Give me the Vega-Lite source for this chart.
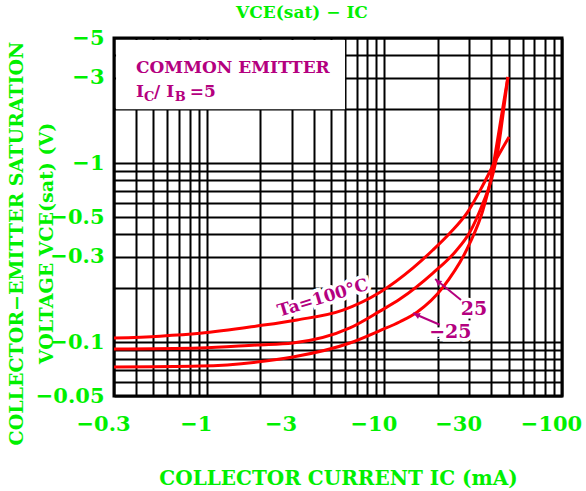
{
  "$schema": "https://vega.github.io/schema/vega-lite/v6.json",
  "width": 448,
  "height": 358,
  "autosize": {"type": "none"},
  "padding": {"left": 114, "top": 38, "right": 24, "bottom": 95},
  "background": "white",
  "title": {"text": "VCE(sat)  −  IC", "fontSize": 17, "font": "DejaVu Serif", "fontWeight": "bold", "color": "#00f000", "baseline": "alphabetic", "offset": 14, "dx": -36, "dy": 22, "anchor": "middle", "frame": "group"},
  "config": {
    "view": {"stroke": "black", "strokeWidth": 3},
    "axis": {
      "grid": true, "gridColor": "black", "gridWidth": 2, "gridOpacity": 1,
      "ticks": false, "tickSize": 0, "domain": false,
      "labelOverlap": false, "labelFlush": false,
      "labelFont": "DejaVu Serif", "labelFontWeight": "bold", "labelFontSize": 21, "labelColor": "#00f000",
      "titleFont": "DejaVu Serif", "titleFontWeight": "bold", "titleColor": "#00f000"
    }
  },
  "encoding": {
    "x": {
      "field": "x", "type": "quantitative",
      "scale": {"type": "log", "domain": [0.3, 100], "nice": false},
      "axis": {
        "values": [0.3, 0.4, 0.5, 0.6, 0.7, 0.8, 0.9, 1, 2, 3, 4, 5, 6, 7, 8, 9, 10, 20, 30, 40, 50, 60, 70, 80, 90, 100],
        "labelExpr": "indexof([0.3, 1, 3, 10, 30, 100], datum.value) >= 0 ? '−' + datum.value : ''",
        "labelPadding": 17, "labelOffset": -11,
        "title": "COLLECTOR CURRENT IC  (mA)", "titleFontSize": 20, "titleBaseline": "alphabetic", "titleY": 88
      }
    },
    "y": {
      "field": "y", "type": "quantitative",
      "scale": {"type": "log", "domain": [0.05, 5], "nice": false},
      "axis": {
        "values": [0.05, 0.06, 0.07, 0.08, 0.09, 0.1, 0.2, 0.3, 0.4, 0.5, 0.6, 0.7, 0.8, 0.9, 1, 2, 3, 4, 5],
        "labelExpr": "indexof([0.05, 0.1, 0.3, 0.5, 1, 3, 5], datum.value) >= 0 ? '−' + datum.value : ''",
        "labelPadding": 10,
        "title": ["COLLECTOR−EMITTER SATURATION", "VOLTAGE VCE(sat) (V)"], "titleFontSize": 19,
        "titleBaseline": "bottom", "titleLineHeight": 30, "titleX": -88, "titleY": 205, "titleAngle": -90, "titleAlign": "center"
      }
    }
  },
  "layer": [
    {
      "data": {"values": [{"x": 0.308, "x2": 6.0, "y": 4.87, "y2": 2}]},
      "mark": {"type": "rect", "fill": "white", "strokeWidth": 0},
      "encoding": {"x2": {"field": "x2"}, "y2": {"field": "y2"}}
    },
    {
      "data": {"values": [{"x": 4.51, "y": 0.176, "t": "Ta=100°C"}]},
      "mark": {"type": "text", "angle": -17, "font": "DejaVu Serif", "fontWeight": "bold", "fontSize": 17, "stroke": "white", "strokeWidth": 7, "fill": "white", "align": "center", "baseline": "middle"},
      "encoding": {"text": {"field": "t"}}
    },
    {
      "data": {"values": [{"x": 31.9, "y": 0.153, "t": "25"}, {"x": 23.5, "y": 0.114, "t": "−25"}]},
      "mark": {"type": "text", "font": "DejaVu Serif", "fontWeight": "bold", "fontSize": 19, "stroke": "white", "strokeWidth": 7, "fill": "white", "align": "center", "baseline": "middle"},
      "encoding": {"text": {"field": "t"}}
    },
    {
      "data": {"values": [
        {"s": "100", "x": 0.3, "y": 0.1054}, {"s": "100", "x": 0.545, "y": 0.108}, {"s": "100", "x": 0.915, "y": 0.112},
        {"s": "100", "x": 1.915, "y": 0.123}, {"s": "100", "x": 3.22, "y": 0.133}, {"s": "100", "x": 5.84, "y": 0.151},
        {"s": "100", "x": 9.44, "y": 0.19}, {"s": "100", "x": 14.5, "y": 0.26}, {"s": "100", "x": 18.75, "y": 0.327},
        {"s": "100", "x": 23.4, "y": 0.407}, {"s": "100", "x": 29.2, "y": 0.527}, {"s": "100", "x": 35.9, "y": 0.755},
        {"s": "100", "x": 42.4, "y": 1.04}, {"s": "100", "x": 50.3, "y": 1.4},
        {"s": "25", "x": 0.3, "y": 0.0915}, {"s": "25", "x": 0.915, "y": 0.0927}, {"s": "25", "x": 1.915, "y": 0.0964},
        {"s": "25", "x": 3.05, "y": 0.0989}, {"s": "25", "x": 6.39, "y": 0.12}, {"s": "25", "x": 9.44, "y": 0.149},
        {"s": "25", "x": 12.23, "y": 0.174}, {"s": "25", "x": 18.75, "y": 0.243}, {"s": "25", "x": 25.0, "y": 0.319},
        {"s": "25", "x": 30.3, "y": 0.412}, {"s": "25", "x": 35.9, "y": 0.599}, {"s": "25", "x": 40.3, "y": 0.826},
        {"s": "25", "x": 43.6, "y": 1.18}, {"s": "25", "x": 46.5, "y": 1.857}, {"s": "25", "x": 49.6, "y": 3.03},
        {"s": "-25", "x": 0.3, "y": 0.0726}, {"s": "-25", "x": 0.915, "y": 0.0735}, {"s": "-25", "x": 1.915, "y": 0.0774},
        {"s": "-25", "x": 3.05, "y": 0.0826}, {"s": "-25", "x": 6.39, "y": 0.0989}, {"s": "-25", "x": 9.44, "y": 0.116},
        {"s": "-25", "x": 12.23, "y": 0.13}, {"s": "-25", "x": 15.25, "y": 0.147}, {"s": "-25", "x": 21.4, "y": 0.203},
        {"s": "-25", "x": 30.3, "y": 0.358}, {"s": "-25", "x": 35.9, "y": 0.547}, {"s": "-25", "x": 39.3, "y": 0.774},
        {"s": "-25", "x": 42.4, "y": 1.18}, {"s": "-25", "x": 45.9, "y": 1.905}, {"s": "-25", "x": 49.6, "y": 3.03}
      ]},
      "mark": {"type": "line", "color": "#ff0000", "strokeWidth": 3, "interpolate": "monotone"},
      "encoding": {"detail": {"field": "s"}}
    },
    {
      "data": {"values": [{"x": 4.51, "y": 0.176, "t": "Ta=100°C"}]},
      "mark": {"type": "text", "angle": -17, "font": "DejaVu Serif", "fontWeight": "bold", "fontSize": 17, "fill": "#b4007f", "align": "center", "baseline": "middle"},
      "encoding": {"text": {"field": "t"}}
    },
    {
      "data": {"values": [{"x": 31.9, "y": 0.153, "t": "25"}, {"x": 23.5, "y": 0.114, "t": "−25"}]},
      "mark": {"type": "text", "font": "DejaVu Serif", "fontWeight": "bold", "fontSize": 19, "fill": "#b4007f", "align": "center", "baseline": "middle"},
      "encoding": {"text": {"field": "t"}}
    },
    {
      "data": {"values": [{"x": 27.0, "y": 0.172, "x2": 19.3, "y2": 0.225}, {"x": 20.5, "y": 0.125, "x2": 14.5, "y2": 0.145}]},
      "mark": {"type": "rule", "color": "#b4007f", "strokeWidth": 2},
      "encoding": {"x2": {"field": "x2"}, "y2": {"field": "y2"}}
    },
    {
      "data": {"values": [{"x": 20.0, "y": 0.217}]},
      "mark": {"type": "point", "shape": "triangle-up", "filled": true, "color": "#b4007f", "size": 45, "angle": -51, "opacity": 1},
      "encoding": {}
    },
    {
      "data": {"values": [{"x": 15.2, "y": 0.142}]},
      "mark": {"type": "point", "shape": "triangle-up", "filled": true, "color": "#b4007f", "size": 45, "angle": -66, "opacity": 1},
      "encoding": {}
    },
    {
      "data": {"values": [
        {"x": 0.399, "y": 3.19, "t": "COMMON EMITTER"},
        {"x": 0.399, "y": 2.34, "t": "I"},
        {"x": 0.504, "y": 2.34, "t": "/"},
        {"x": 0.59, "y": 2.34, "t": "I"},
        {"x": 0.80, "y": 2.34, "t": "=5"}
      ]},
      "mark": {"type": "text", "font": "DejaVu Serif", "fontWeight": "bold", "fontSize": 17, "fill": "#b4007f", "align": "left", "baseline": "alphabetic"},
      "encoding": {"text": {"field": "t"}}
    },
    {
      "data": {"values": [
        {"x": 0.443, "y": 2.22, "t": "C"},
        {"x": 0.66, "y": 2.22, "t": "B"}
      ]},
      "mark": {"type": "text", "font": "DejaVu Serif", "fontWeight": "bold", "fontSize": 13, "fill": "#b4007f", "align": "left", "baseline": "alphabetic"},
      "encoding": {"text": {"field": "t"}}
    }
  ]
}
